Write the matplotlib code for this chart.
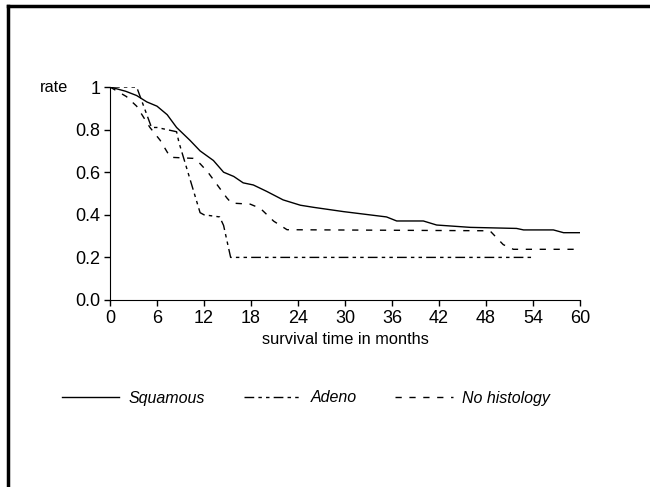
import matplotlib
matplotlib.use("Agg")
import matplotlib.pyplot as plt
from matplotlib.lines import Line2D

plt.rcParams['font.family'] = ['Liberation Sans', 'DejaVu Sans']

# survival curves (months, rate)
squam_t = [0, 2, 3.4, 4.7, 6, 7.3, 8.5, 10.2, 11.5, 13.2, 14.5, 15.8, 17, 18.3, 20,
           22.1, 24.3, 26, 29.8, 35.3, 36.6, 40, 41.7, 46, 51.9, 52.8, 56.6, 57.9, 60]
squam_r = [1, 0.98, 0.96, 0.93, 0.91, 0.87, 0.81, 0.75, 0.70, 0.655, 0.60, 0.58, 0.55,
           0.54, 0.51, 0.47, 0.445, 0.435, 0.415, 0.39, 0.371, 0.371, 0.352, 0.341,
           0.336, 0.329, 0.329, 0.316, 0.316]

adeno_t = [0, 3.4, 4.2, 5.3, 6, 8.5, 8.8, 11.5, 12, 14, 14.5, 15.4, 53.8]
adeno_r = [1, 1, 0.92, 0.81, 0.81, 0.79, 0.74, 0.41, 0.40, 0.39, 0.35, 0.2, 0.2]

nohist_t = [0, 2.1, 3.4, 5.1, 6.4, 7.7, 10.6, 11.5, 12.5, 14.9, 15.5, 17.9, 19.2,
            20.9, 22.6, 48.5, 50.2, 51.5, 59.6]
nohist_r = [1, 0.955, 0.91, 0.81, 0.75, 0.67, 0.665, 0.64, 0.60, 0.48, 0.455, 0.45,
            0.43, 0.37, 0.33, 0.325, 0.26, 0.238, 0.238]

xticks = [0, 6, 12, 18, 24, 30, 36, 42, 48, 54, 60]
yticks = [0.0, 0.2, 0.4, 0.6, 0.8, 1.0]
ylabels = ['0.0', '0.2', '0.4', '0.6', '0.8', '1']

fig = plt.figure(figsize=(6.5, 4.87), dpi=100)
ax = fig.add_axes([110/650, 1 - 300/487, 470/650, 213/487])

ax.plot(squam_t, squam_r, color='black', lw=1.0, label='Squamous')
ax.plot(adeno_t, adeno_r, color='black', lw=1.0, dashes=(7, 3, 2.5, 3, 2.5, 3), label='Adeno')
ax.plot(nohist_t, nohist_r, color='black', lw=1.0, dashes=(4.5, 5.5), label='No histology')

ax.set_xlim(0, 60)
ax.set_ylim(0, 1)
ax.set_xticks(xticks)
ax.set_yticks(yticks)
ax.set_yticklabels(ylabels)
ax.spines['top'].set_visible(False)
ax.spines['right'].set_visible(False)
ax.tick_params(direction='out', length=4, width=1, labelsize=13, colors='black', pad=3)
ax.set_xlabel('survival time in months', fontsize=11.8, labelpad=4)
ax.text(-0.09, 1.0, 'rate', transform=ax.transAxes, ha='right', va='center', fontsize=11.8)

leg = ax.legend(loc='center', ncol=3, frameon=False,
                handlelength=3.6, handletextpad=0.6, columnspacing=2.4,
                prop={'style': 'italic', 'size': 11.5})
leg.set_bbox_to_anchor(((306 - 110) / 470, (300 - 398) / 213), transform=ax.transAxes)

# frame lines on the page
fig.add_artist(Line2D([8/650, 8/650], [0, 1 - 6/487], color='black', lw=2.5))
fig.add_artist(Line2D([8/650, 1], [1 - 6/487, 1 - 6/487], color='black', lw=2.5))

fig.savefig('out.png', dpi=100)
